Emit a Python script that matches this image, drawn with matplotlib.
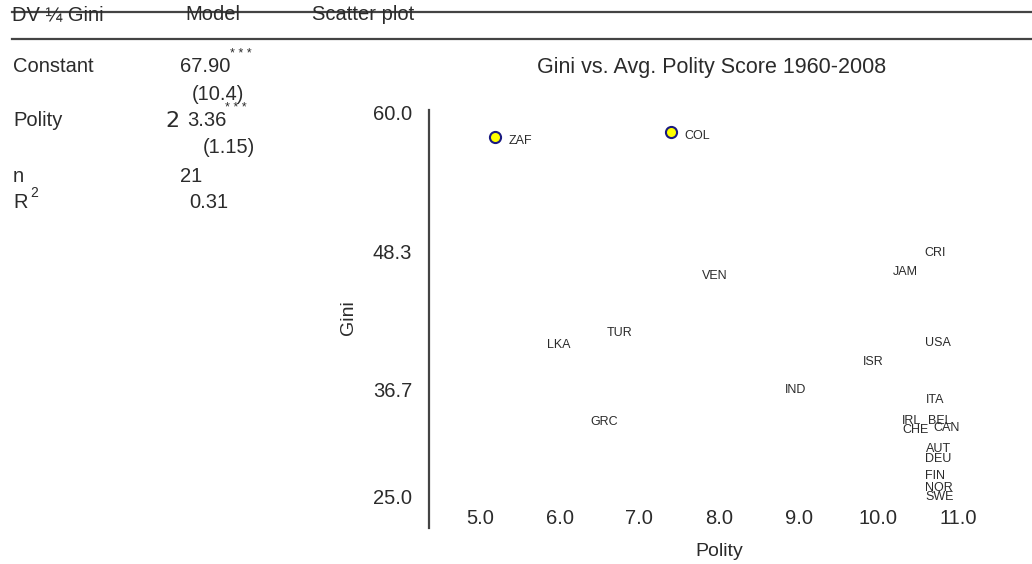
import matplotlib
matplotlib.use("Agg")
import matplotlib.pyplot as plt
import matplotlib.transforms as mtransforms
from matplotlib.lines import Line2D

# data
countries = ["ZAF", "COL", "CRI", "JAM", "VEN", "TUR", "LKA", "USA", "ISR", "IND",
             "ITA", "GRC", "IRL", "BEL", "CHE", "CAN", "AUT", "DEU", "FIN", "NOR", "SWE"]
polity = [5.19, 7.40, 10.40, 10.01, 7.62, 6.42, 5.67, 10.42, 9.63, 8.66,
          10.42, 6.22, 10.13, 10.45, 10.13, 10.52, 10.42, 10.42, 10.42, 10.42, 10.42]
gini = [57.98, 58.40, 48.59, 47.00, 46.66, 41.86, 40.77, 41.02, 39.42, 36.98,
        36.14, 34.28, 34.37, 34.37, 33.61, 33.78, 32.01, 31.17, 29.74, 28.73, 27.97]
marked = ["ZAF", "COL"]

xticks = [5.0, 6.0, 7.0, 8.0, 9.0, 10.0, 11.0]
yticks = [60.0, 48.3, 36.7, 25.0]

# regression table
table_rows = [("Constant", "67.90", "(10.4)"), ("Polity", "3.36", "(1.15)")]
n_obs = "21"
r2 = "0.31"

W, H = 1032, 564
NARROW = ["Liberation Sans Narrow", "Liberation Sans", "DejaVu Sans"]
REG = ["Liberation Sans", "DejaVu Sans"]
TXT = "#2b2b2b"
BIG = 14.5

fig = plt.figure(figsize=(W / 100, H / 100), dpi=100)


def ftext(x, y, s, **kw):
    kw.setdefault("family", NARROW)
    kw.setdefault("fontsize", BIG)
    kw.setdefault("color", TXT)
    kw.setdefault("va", "center")
    return fig.text(x / W, 1 - y / H, s, **kw)


# rules across the top
for yy in (12, 39):
    fig.add_artist(Line2D([12 / W, 1], [1 - yy / H] * 2, transform=fig.transFigure,
                          color="#444444", lw=1.6))

ftext(12, 15, "DV ¼ Gini")
ftext(185, 15, "Model")
ftext(312, 15, "Scatter plot")

ftext(13, 67, table_rows[0][0])
ftext(180, 67, table_rows[0][1])
ftext(230, 54, "* * *", fontsize=9)
ftext(192, 95, table_rows[0][2])

ftext(13, 120, table_rows[1][0])
ftext(165, 121, "2", family=["DejaVu Sans"], fontsize=16)
ftext(187, 120, table_rows[1][1])
ftext(225, 108, "* * *", fontsize=9)
ftext(203, 147, table_rows[1][2])

ftext(13, 177, "n")
ftext(180, 177, n_obs)
ftext(13, 202, "R")
ftext(30, 193, "2", fontsize=10)
ftext(189, 202, r2)

# scatter axes: left 429px, right 1010px, top 110px, bottom 528px
ax = fig.add_axes([429 / W, 1 - 528 / H, (1010 - 429) / W, (528 - 110) / H])
ax.set_xlim(4.36, 11.65)
ax.set_ylim(25.07, 60.25)
for s in ("top", "right", "bottom"):
    ax.spines[s].set_visible(False)
ax.spines["left"].set_color("#444444")
ax.spines["left"].set_linewidth(1.6)

ax.set_xticks(xticks)
ax.set_xticklabels([f"{v:.1f}" for v in xticks], family=NARROW, fontsize=BIG, color=TXT)
ax.set_yticks(yticks)
ax.set_yticklabels([f"{v:.1f}" for v in yticks], family=NARROW, fontsize=BIG, color=TXT)
ax.tick_params(axis="both", length=0)
ax.tick_params(axis="y", pad=12)
ax.tick_params(axis="x", pad=-14)
# the lowest gini label sits a little higher in the original
lab = ax.get_yticklabels()[-1]
lab.set_transform(lab.get_transform() + mtransforms.ScaledTranslation(0, 31 / 100, fig.dpi_scale_trans))

for c, x, y in zip(countries, polity, gini):
    if c in marked:
        ax.plot(x, y, "o", ms=8, mfc="#ffff00", mec="#1a1a80", mew=1.5)
    ax.annotate(c, (x, y), xytext=(13.5, -4.5), textcoords="offset pixels",
                ha="left", va="center", family=NARROW, fontsize=9, color=TXT)

ftext(712, 67, "Gini vs. Avg. Polity Score 1960-2008", family=REG, fontsize=15.5, ha="center")
ftext(349, 318, "Gini", family=REG, fontsize=14, ha="center", rotation=90)
ftext(719, 552, "Polity", family=REG, fontsize=14, ha="center")

fig.savefig("out.png", dpi=100)
